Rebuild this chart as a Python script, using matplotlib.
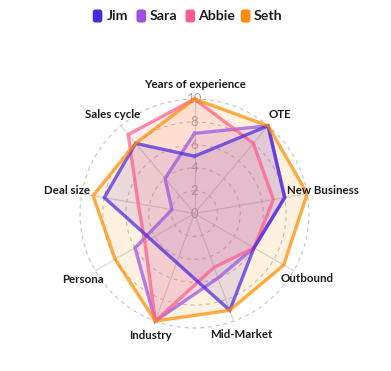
import numpy as np
import matplotlib
matplotlib.use("Agg")
import matplotlib.pyplot as plt
from matplotlib.patches import FancyBboxPatch

# ---- data ----
categories = ["Years of experience", "OTE", "New Business", "Outbound", "Mid-Market",
              "Industry", "Persona", "Deal size", "Sales cycle"]
series_names = ["Jim", "Sara", "Abbie", "Seth"]
jim = [5, 10, 8, 6, 9, None, None, 8, 8]
sara = [7, 10, 8, 6, 6, 10, 6, 2, 4]
abbie = [10, 8, 7, 6, 5, 10, 5, 5, 9]
seth = [10, 10, 10, 9, 9, 10, 8, 9, 8]
colors = ["#4a28e0", "#9b52e0", "#ff5c8a", "#ff8c00"]
r_ticks = [0, 2, 4, 6, 8, 10]

W, H = 391, 371
fig = plt.figure(figsize=(W / 100, H / 100), dpi=100)
fig.patch.set_facecolor("white")

cx, cy, R = 194.5, 213.5, 114.5
ax = fig.add_axes([(cx - R) / W, (H - cy - R) / H, 2 * R / W, 2 * R / H], projection="polar")
ax.set_theta_zero_location("N")
ax.set_theta_direction(-1)
ax.set_ylim(0, 10)
ax.set_facecolor("none")
ax.spines["polar"].set_visible(False)
ax.grid(False)
ax.set_xticks([])
ax.set_yticks([])

n = len(categories)
angles = np.arange(n) * 2 * np.pi / n

# grid circles
tt = np.linspace(0, 2 * np.pi, 361)
for r in r_ticks[1:]:
    ax.plot(tt, np.full_like(tt, r), color="#c4c4c4", lw=0.8, ls=(0, (3.5, 3.5)),
            zorder=1, clip_on=False)
# angle lines
for a in angles:
    ax.plot([a, a], [0, 10], color="#d6d6d6", lw=0.8, zorder=1, clip_on=False)
# tick labels
for r in r_ticks:
    ax.text(0, r, str(r), ha="center", va="center", fontsize=9.5, color="#a8a8a8",
            family="Lato", zorder=1.5)

data = [jim, sara, abbie, seth]
zorders = [5, 3, 4, 6]
for vals, col, z in zip(data, colors, zorders):
    th = [a for a, v in zip(angles, vals) if v is not None]
    rv = [v for v in vals if v is not None]
    th = th + [th[0]]
    rv = rv + [rv[0]]
    ax.fill(th, rv, color=col, alpha=0.12, lw=0, zorder=2)
    ax.plot(th, rv, color=col, alpha=0.72, lw=2.4, zorder=z, clip_on=False,
            solid_joinstyle="miter")

# category labels (pixel anchors)
label_pos = [
    (194.7, 85, "center"), (268.3, 115, "left"), (286.7, 190.7, "left"),
    (280.7, 279, "left"), (210, 335, "left"), (150.8, 335.7, "center"),
    (104, 279.3, "right"), (90, 190.7, "right"), (140, 115, "right"),
]
for (x, y, ha), lab in zip(label_pos, categories):
    fig.text(x / W, 1 - y / H, lab, ha=ha, va="center", fontsize=8.3,
             fontweight="bold", family="Lato", color="#1c1c1c")

# legend
leg_box_x = [92.7, 136.5, 185.5, 240.8]
leg_txt_x = [106.5, 150, 197.7, 253.3]
for bx, tx, name, col in zip(leg_box_x, leg_txt_x, series_names, colors):
    p = FancyBboxPatch((bx / 100, (H - 22.5) / 100), 9.6 / 100, 13 / 100,
                       boxstyle="round,pad=0,rounding_size=0.025",
                       transform=fig.dpi_scale_trans, facecolor=col, edgecolor="none")
    fig.add_artist(p)
    fig.text(tx / W, 1 - 16 / H, name, ha="left", va="center", fontsize=10.2,
             fontweight="bold", family="Lato", color="#1c1c1c")

fig.savefig("out.png", dpi=100, facecolor="white")
